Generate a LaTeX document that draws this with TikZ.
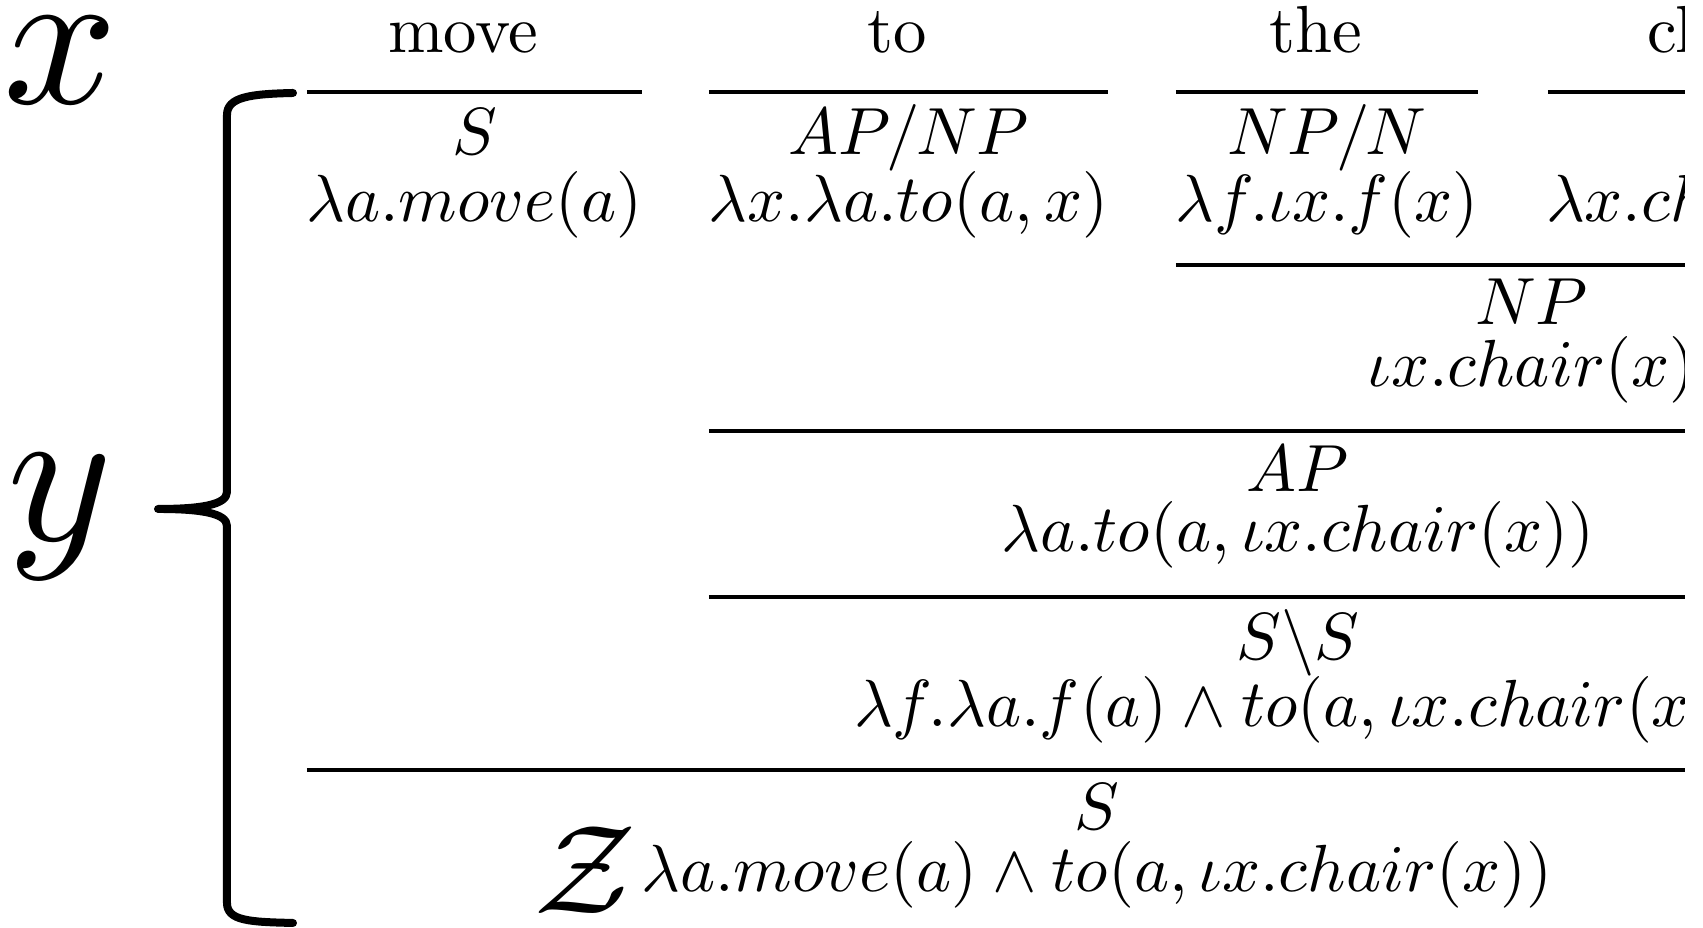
\documentclass[tikz,border=0pt]{standalone}
\usepackage{graphicx}
\usepackage{tikz}

\newcommand{\grandetxt}[2]{\scalebox{#1}{$#2$}}

\begin{document}
\begin{tikzpicture}[
		x=0.15pt, y=-0.15pt,                       % 1 unidad = 1 px de la imagen
		every node/.style = {inner sep=0pt, outer sep=0pt},
		palabra/.style = {anchor=base},
		cat/.style = {anchor=base},
		sem/.style = {anchor=base},
		regla/.style = {line width=0.5pt},
		llave/.style = {line width=1.2pt, line cap=round, line join=round}
		]
		
		\useasboundingbox (0,0) rectangle (1703,928);
		\clip (0,0) rectangle (1685,928);
		
		% Palabras
		\node[palabra] (move) at (463,53) {move};
		\node[palabra] (to) at (897,53) {to};
		\node[palabra] (the) at (1316,53) {the};
		\node[palabra] (chair) at (1719,53) {chair};
		
		% Entradas lexicas
		\draw[regla] (307,92) -- (642,92);
		\draw[regla] (709,92) -- (1108,92);
		\draw[regla] (1176,92) -- (1478,92);
		\draw[regla] (1548,92) -- (1887,92);
		
		\node[cat] (catmove) at (474.5,155) {$S$};
		\node[sem] (semmove) at (474.5,222) {$\lambda a.move(a)$};
		\node[cat] (catto) at (908.5,155) {$AP/NP$};
		\node[sem] (semto) at (908.5,222) {$\lambda x.\lambda a.to(a,x)$};
		\node[cat] (catthe) at (1327,155) {$NP/N$};
		\node[sem] (semthe) at (1327,222) {$\lambda f.\iota x.f(x)$};
		\node[cat] (catchair) at (1717.5,155) {$N$};
		\node[sem] (semchair) at (1717.5,222) {$\lambda x.chair(x)$};
		
		% NP
		\draw[regla] (1176,265) -- (1887,265);
		\node[cat] (catnp) at (1531.5,325) {$NP$};
		\node[sem] (semnp) at (1531.5,387) {$\iota x.chair(x)$};
		
		% AP
		\draw[regla] (709,431) -- (1887,431);
		\node[cat] (catap) at (1298,492) {$AP$};
		\node[sem] (semap) at (1298,552) {$\lambda a.to(a,\iota x.chair(x))$};
		
		% S\S
		\draw[regla] (709,597) -- (1887,597);
		\node[cat] (catss) at (1298,660) {$S\backslash S$};
		\node[sem] (semss) at (1298,727) {$\lambda f.\lambda a.f(a)\wedge to(a,\iota x.chair(x))$};
		
		% S
		\draw[regla] (307,770) -- (1887,770);
		\node[cat] (cats) at (1097,830) {$S$};
		\node[sem] (sems) at (1097,892) {$\lambda a.move(a)\wedge to(a,\iota x.chair(x))$};
		
		% Etiquetas x, y, Z
		\node (ex) at (61,60) {\grandetxt{3.0}{x}};
		\node (ye) at (60,517) {\grandetxt{3.0}{y}};
		\node (zeta) at (585,870) {\grandetxt{1.9}{\mathcal{Z}}};
		
		% Llave
		\draw[llave] (293,93) .. controls (250,94) and (227,97) .. (227,115)
		-- (227,492) .. controls (227,505) and (200,509) .. (158,509)
		.. controls (200,509) and (227,513) .. (227,526)
		-- (227,903) .. controls (227,921) and (250,922) .. (293,923);
		
	\end{tikzpicture}
\end{document}
